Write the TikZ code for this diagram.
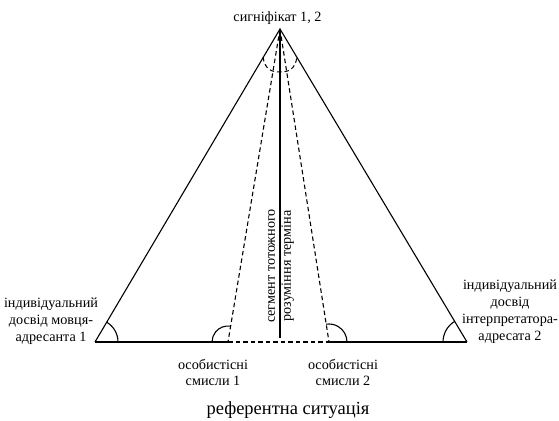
\documentclass[tikz,border=0pt]{standalone}
\usepackage{fontspec}
\setmainfont{Liberation Serif}
\usetikzlibrary{angles}
\begin{document}
\begin{tikzpicture}[x=1pt,y=1pt,line width=1.1pt,
  lbl/.style={align=center,font=\fontsize{14.2}{17}\selectfont},
  dsh/.style={dash pattern=on 4.5pt off 3pt}]
\useasboundingbox (0,0) rectangle (559,420);
\coordinate (apex) at (280,391);
\coordinate (lc) at (95,78);
\coordinate (rc) at (467,78);
\coordinate (f1) at (228,78);
\coordinate (f2) at (329,78);
\coordinate (mid) at (280,82);
% triangle and inner lines
\draw (lc) -- (apex) -- (rc);
\draw (lc) -- (f1);
\draw (f2) -- (rc);
\draw[dsh] (f1) -- (f2);
\draw[dsh] (apex) -- (f1);
\draw[dsh] (apex) -- (f2);
\draw (apex) -- (mid);
% angle marks
\pic[draw,angle radius=23pt] {angle=f1--lc--apex};
\pic[draw,angle radius=16pt] {angle=apex--f1--lc};
\pic[draw,angle radius=18pt] {angle=rc--f2--apex};
\pic[draw,angle radius=24pt] {angle=apex--rc--lc};
\draw[dsh,line width=1pt] (263,363) .. controls (265,350) and (272,348) .. (280,348)
  .. controls (288,348) and (295,350) .. (297,363);
% labels
\node[lbl] (sig) at (277.5,402) {сигніфікат 1, 2};
\node[lbl] (exp1) at (51,99) {індивідуальний\\досвід мовця-\\адресанта 1};
\node[lbl] (exp2) at (510,108) {індивідуальний\\досвід\\інтерпретатора-\\адресата 2};
\node[lbl,font=\fontsize{14.2}{16}\selectfont] (sens1) at (213,48) {особистісні\\смисли 1};
\node[lbl,font=\fontsize{14.2}{16}\selectfont] (sens2) at (343,48) {особистісні\\смисли 2};
\node[lbl,font=\fontsize{14.2}{16}\selectfont,rotate=90] (seg) at (281,154) {сегмент тотожного\\розуміння терміна};
\node[font=\fontsize{18.5}{20}\selectfont] (ref) at (288,10) {референтна ситуація};
\end{tikzpicture}
\end{document}
